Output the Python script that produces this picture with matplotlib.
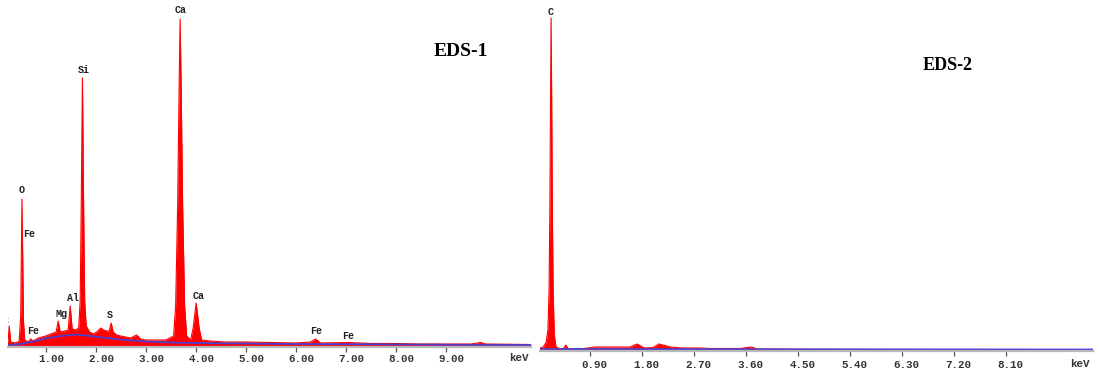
import matplotlib
matplotlib.use("Agg")
import matplotlib.pyplot as plt
import matplotlib.transforms as mtransforms

# EDS-1 spectrum (energy in keV, counts in arbitrary units)
eds1_energy = [0.20, 0.25, 0.27, 0.30, 0.40, 0.47, 0.50, 0.515, 0.526, 0.54, 0.555, 0.58,
               0.65, 0.70, 0.75, 0.85, 1.00, 1.10, 1.21, 1.25, 1.29, 1.38, 1.45, 1.49,
               1.53, 1.60, 1.66, 1.69, 1.71, 1.735, 1.76, 1.78, 1.81, 1.88, 1.95, 2.02,
               2.10, 2.16, 2.22, 2.27, 2.31, 2.35, 2.42, 2.50, 2.60, 2.70, 2.82, 2.90,
               3.00, 3.20, 3.40, 3.56, 3.60, 3.64, 3.67, 3.69, 3.71, 3.74, 3.78, 3.82,
               3.90, 3.95, 4.01, 4.07, 4.12, 4.30, 4.60, 5.00, 5.50, 6.00, 6.30, 6.40,
               6.50, 7.06, 7.50, 8.00, 8.50, 9.00, 9.50, 9.70, 9.80, 10.71]
eds1_counts = [0, 6, 20, 4, 3, 5, 30, 100, 147, 90, 25, 6,
               4, 7, 5, 8, 10, 12, 14, 25, 14, 15, 16, 40,
               17, 16, 18, 45, 134, 268, 134, 45, 20, 14, 12, 14,
               18, 16, 15, 15, 23, 14, 11, 10, 9, 8, 11, 7,
               6, 6, 6, 10, 40, 140, 260, 327, 260, 140, 40, 10,
               6, 18, 43, 18, 6, 5, 4, 4, 3.5, 3, 4, 7,
               3, 3.5, 2.5, 2.5, 2, 2, 2, 3.5, 2, 1.5]
eds1_bg_energy = [0.25, 0.5, 0.8, 1.0, 1.3, 1.6, 1.9, 2.2, 2.6, 3.0, 3.5, 4.0, 5.0, 6.0,
                  7.0, 8.0, 9.0, 10.71]
eds1_bg_counts = [1, 2, 5, 7.5, 10, 11.5, 10, 8, 6, 4.5, 3.5, 3, 2.5, 2, 1.8, 1.5, 1.3, 1]
eds1_ticks = [1, 2, 3, 4, 5, 6, 7, 8, 9]
eds1_ticklabels = ["1.00", "2.00", "3.00", "4.00", "5.00", "6.00", "7.00", "8.00", "9.00"]
eds1_peak_names = ["C", "O", "Fe", "Fe", "Mg", "Al", "Si", "S", "Ca", "Ca", "Fe", "Fe"]
eds1_peak_energy = [0.19, 0.51, 0.67, 0.75, 1.31, 1.55, 1.77, 2.29, 3.70, 4.05, 6.41, 7.05]
eds1_peak_counts = [25, 156, 112, 15, 32, 48, 276, 31, 336, 50, 15, 10]

# EDS-2 spectrum
eds2_energy = [0.043, 0.10, 0.15, 0.18, 0.20, 0.215, 0.225, 0.235, 0.245, 0.255, 0.27,
               0.29, 0.32, 0.40, 0.45, 0.49, 0.53, 0.80, 1.00, 1.20, 1.40, 1.60, 1.72,
               1.85, 2.00, 2.10, 2.30, 2.50, 2.80, 3.00, 3.50, 3.70, 3.80, 4.50, 6.00,
               9.61]
eds2_counts = [2, 3, 8, 20, 60, 150, 250, 332, 250, 150, 60,
               15, 3, 1, 1.5, 5, 1, 1.5, 3, 3, 3, 3, 6,
               2, 2.5, 6, 3, 2, 2, 1.5, 1.5, 3, 1, 0.8, 0.5,
               0.3]
eds2_bg_energy = [0.043, 1.0, 2.0, 4.0, 9.61]
eds2_bg_counts = [1.0, 1.0, 0.9, 0.7, 0.5]
eds2_ticks = [0.9, 1.8, 2.7, 3.6, 4.5, 5.4, 6.3, 7.2, 8.1]
eds2_ticklabels = ["0.90", "1.80", "2.70", "3.60", "4.50", "5.40", "6.30", "7.20", "8.10"]
eds2_peak_names = ["C"]
eds2_peak_energy = [0.234]
eds2_peak_counts = [338]

W, H = 1099, 377
fig = plt.figure(figsize=(W / 100, H / 100), dpi=100)


def px_axes(x0, x1, y_top, y_bottom):
    return fig.add_axes([x0 / W, 1 - y_bottom / H, (x1 - x0) / W, (y_bottom - y_top) / H])


def draw_spectrum(ax, energy, counts, bg_e, bg_c, ticks, labels, names, pe, pc,
                  xlim, ylim, label_shift_px, pad, title, title_xy, title_size, kev_xy):
    ax.fill_between(energy, counts, ylim[0], color="#ff0000", lw=0)
    ax.plot(energy, counts, color="#ff0000", lw=0.8)
    ax.plot(bg_e, bg_c, color="#4b3fd0", lw=1.3)
    ax.set_xlim(*xlim)
    ax.set_ylim(*ylim)
    for s in ["left", "top", "right"]:
        ax.spines[s].set_visible(False)
    ax.spines["bottom"].set_color("#b8b8b8")
    ax.spines["bottom"].set_linewidth(1.6)
    ax.set_yticks([])
    ax.set_xticks(ticks)
    ax.set_xticklabels(labels, family="Liberation Mono", fontweight="bold",
                       fontsize=7.8, color="#333333")
    ax.tick_params(axis="x", direction="out", length=3.5, width=0.9,
                   color="#555555", pad=pad)
    off = mtransforms.ScaledTranslation(label_shift_px / 100, 0, fig.dpi_scale_trans)
    for lab in ax.get_xticklabels():
        lab.set_transform(lab.get_transform() + off)
    for n, e, c in zip(names, pe, pc):
        ax.text(e, c, n, ha="center", va="center", family="Liberation Mono",
                fontweight="bold", fontsize=7.2, color="#222222", clip_on=True)
    ax.text(kev_xy[0], kev_xy[1], "keV", transform=ax.transAxes, ha="center",
            va="center", family="Liberation Mono", fontweight="bold", fontsize=7.8,
            color="#333333")
    fig.text(title_xy[0] / W, 1 - title_xy[1] / H, title, ha="center", va="center",
             family="Liberation Serif", fontweight="bold", fontsize=title_size)


ax1 = px_axes(8, 531, 0, 347)
draw_spectrum(ax1, eds1_energy, eds1_counts, eds1_bg_energy, eds1_bg_counts,
              eds1_ticks, eds1_ticklabels, eds1_peak_names, eds1_peak_energy,
              eds1_peak_counts, (0.246, 10.71), (-1, 346), 6, 1.2,
              "EDS-1", (461, 51), 14, ((519 - 8) / 523, (347 - 358) / 347))

ax2 = px_axes(540, 1093, 0, 351)
draw_spectrum(ax2, eds2_energy, eds2_counts, eds2_bg_energy, eds2_bg_counts,
              eds2_ticks, eds2_ticklabels, eds2_peak_names, eds2_peak_energy,
              eds2_peak_counts, (0.043, 9.61), (-1, 350), 4.5, 2.7,
              "EDS-2", (948, 66), 13, ((1080 - 540) / 553, (351 - 364) / 351))

fig.savefig("out.png", dpi=100)
